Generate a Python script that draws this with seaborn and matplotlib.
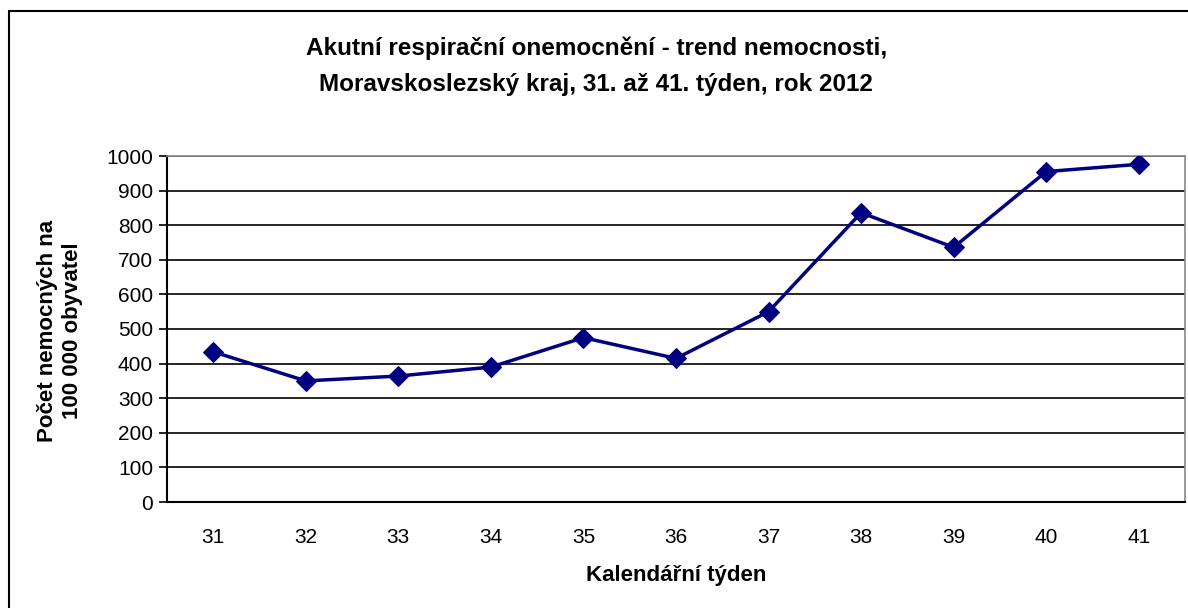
import seaborn as sns
import pandas as pd
import matplotlib.pyplot as plt
from matplotlib.patches import Rectangle

# týdny a nemocnost na 100 000 obyvatel
weeks = ['31', '32', '33', '34', '35', '36', '37', '38', '39', '40', '41']
rates = [434, 350, 364, 390, 475, 415, 550, 836, 736, 955, 976]
y_ticks = [0, 100, 200, 300, 400, 500, 600, 700, 800, 900, 1000]

df = pd.DataFrame({'week': weeks, 'rate': rates})
df['pos'] = range(len(df))

sns.set_theme(style='white')
plt.rcParams['font.family'] = ['Liberation Sans', 'DejaVu Sans']
plt.rcParams['text.color'] = 'black'
plt.rcParams['xtick.color'] = 'black'
plt.rcParams['ytick.color'] = 'black'

fig = plt.figure(figsize=(11.88, 6.08), dpi=100)
ax = fig.add_axes([167 / 1188, 1 - 502 / 608, (1185 - 167) / 1188, (502 - 156) / 608])

# vnější rámeček grafu
fig.patches.append(Rectangle((9 / 1188, -0.1), 1.2, 1 - 11 / 608 + 0.1,
                             transform=fig.transFigure, fill=False,
                             edgecolor='black', linewidth=1.5, zorder=0))

for t in y_ticks[1:]:
    ax.axhline(t, color='black', linewidth=1.2, zorder=1)

sns.lineplot(data=df, x='pos', y='rate', color='#000080', linewidth=2.5,
             marker='D', markersize=10, markeredgecolor='#000080', ax=ax, zorder=3)

ax.set_xlim(-0.5, len(weeks) - 0.5)
ax.set_ylim(0, 1000)
ax.set_yticks(y_ticks)
ax.set_yticklabels([str(t) for t in y_ticks], fontsize=15)
ax.set_xticks(range(len(weeks)))
ax.set_xticklabels(weeks, fontsize=15)
ax.set_xticks([i - 0.5 for i in range(len(weeks) + 1)], minor=True)
ax.tick_params(axis='x', which='major', length=0, pad=19)
ax.tick_params(axis='x', which='minor', length=6, width=1.2, color='black', direction='out')
ax.tick_params(axis='y', length=6, width=1.2, color='black', direction='out', left=True, pad=4)

for s in ['left', 'bottom']:
    ax.spines[s].set_color('black')
    ax.spines[s].set_linewidth(1.5)
for s in ['top', 'right']:
    ax.spines[s].set_color('#888888')
    ax.spines[s].set_linewidth(1.2)

ax.set_xlabel('')
ax.set_ylabel('')
fig.text(676 / 1188, 1 - 576 / 608, 'Kalendářní týden', ha='center', va='center',
         fontsize=16, fontweight='bold')
fig.text(60 / 1188, 1 - 331 / 608, 'Počet nemocných na\n100 000 obyvatel', ha='center', va='center',
         rotation=90, fontsize=16, fontweight='bold', linespacing=1.2)

fig.text(0.502, 1 - 66 / 608,
         'Akutní respirační onemocnění - trend nemocnosti,\nMoravskoslezský kraj, 31. až 41. týden, rok 2012',
         ha='center', va='center', fontsize=17.5, fontweight='bold', linespacing=1.75)

fig.savefig('out.png', dpi=100, facecolor='white')
